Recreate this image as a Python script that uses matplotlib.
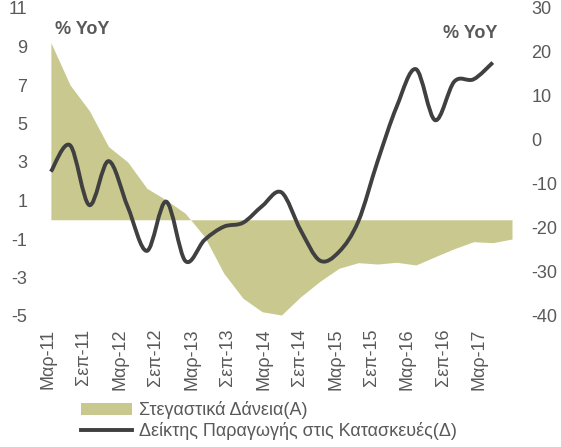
import matplotlib
matplotlib.use('Agg')
import matplotlib.pyplot as plt
from matplotlib.path import Path
from matplotlib.patches import PathPatch
from matplotlib.lines import Line2D
import numpy as np

plt.rcParams['font.family'] = ['Liberation Sans', 'DejaVu Sans']
plt.rcParams['axes.unicode_minus'] = False

# quarterly observations, Mar-11 onwards
loans = [9.2, 7.0, 5.67, 3.8, 3.0, 1.63, 1.03, 0.33, -0.88, -2.78, -4.08, -4.78, -4.95,
         -4.0, -3.2, -2.52, -2.23, -2.30, -2.21, -2.35, -1.92, -1.5, -1.14, -1.19, -1.0]
construction = [-7.2, -1.2, -14.8, -4.8, -15.2, -25.2, -14.0, -27.5, -22.7, -19.7, -18.8, -15.0,
                -11.9, -20.5, -27.4, -25.4, -18.5, -4.9, 7.6, 16.1, 4.5, 13.3, 13.8, 17.6]
tick_labels = ['Μαρ-11', 'Σεπ-11', 'Μαρ-12', 'Σεπ-12', 'Μαρ-13', 'Σεπ-13', 'Μαρ-14',
               'Σεπ-14', 'Μαρ-15', 'Σεπ-15', 'Μαρ-16', 'Σεπ-16', 'Μαρ-17']
loans_label = 'Στεγαστικά Δάνεια(Α)'
constr_label = 'Δείκτης Παραγωγής στις Κατασκευές(Δ)'

area_col = '#c9c98f'
line_col = '#404040'
txt_col = '#595959'


def smooth_path(xs, ys):
    # bezier through the points, like a spreadsheet "smoothed line"
    pts = np.column_stack([xs, ys]).astype(float)
    n = len(pts)
    verts = [pts[0]]
    codes = [Path.MOVETO]
    for i in range(n - 1):
        p0 = pts[i - 1] if i > 0 else pts[i]
        p1 = pts[i]
        p2 = pts[i + 1]
        p3 = pts[i + 2] if i + 2 < n else pts[i + 1]
        verts += [p1 + (p2 - p0) / 6, p2 - (p3 - p1) / 6, p2]
        codes += [Path.CURVE4] * 3
    return Path(verts, codes)


fig = plt.figure(figsize=(5.61, 4.47), dpi=100)
ax = fig.add_axes([48/561, 131/447, 464/561, 308/447])
ax2 = ax.twinx()

x_loans = np.arange(len(loans))
x_con = np.arange(len(construction))
ax.fill_between(x_loans, loans, 0, color=area_col, lw=0, label=loans_label)
ax2.add_patch(PathPatch(smooth_path(x_con, construction), fill=False, edgecolor=line_col,
                        lw=2.8, joinstyle='round', capstyle='butt'))
line_handle = Line2D([], [], color=line_col, lw=2.8)

ax.set_xlim(0, 24)
ax.set_ylim(-5, 11)
ax.set_yticks(np.arange(-5, 12, 2))
ax2.set_ylim(-40, 30)
ax2.set_yticks(np.arange(-40, 31, 10))

ticks = np.linspace(-0.15, 22.3, len(tick_labels))
ax.set_xticks(ticks)
ax.set_xticklabels(tick_labels, rotation=90)

for a in (ax, ax2):
    for s in a.spines.values():
        s.set_visible(False)
    a.tick_params(length=0, labelsize=13, labelcolor=txt_col)
ax.tick_params(axis='y', pad=15)
ax.tick_params(axis='x', pad=9)
ax2.tick_params(axis='y', pad=14)

fig.text(55/561, 1 - 29/447, '% YoY', fontsize=13, fontweight='bold', color=txt_col, va='center')
fig.text(443/561, 1 - 34/447, '% YoY', fontsize=13, fontweight='bold', color=txt_col, va='center')

h1, l1 = ax.get_legend_handles_labels()
fig.legend(h1 + [line_handle], l1 + [constr_label], loc='upper left',
           bbox_to_anchor=(74/561, 1 - 394/447),
           frameon=False, fontsize=13, handlelength=2.8, labelspacing=0.15,
           handletextpad=0.4, labelcolor=txt_col, borderaxespad=0)

fig.savefig('out.png', dpi=100)
